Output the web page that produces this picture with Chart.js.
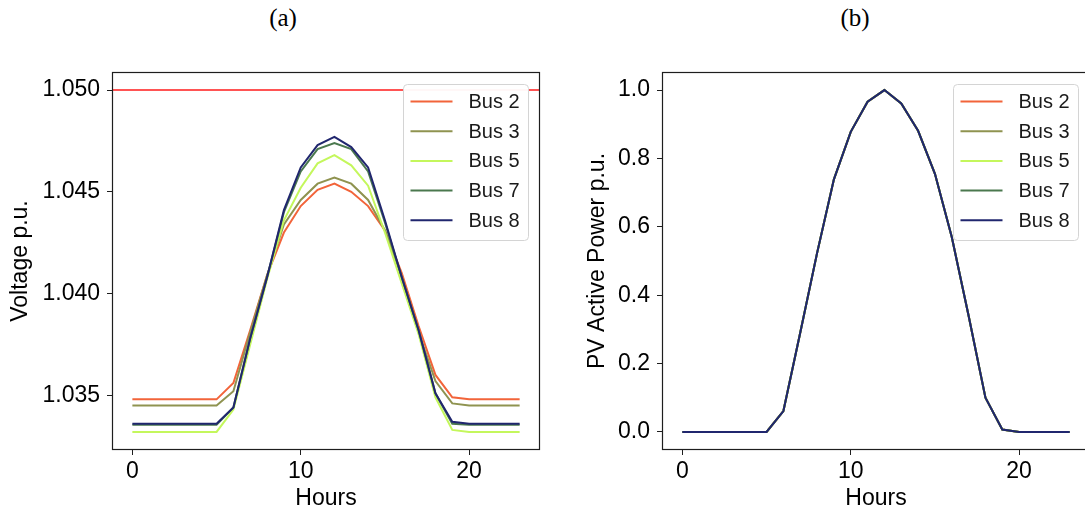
<!DOCTYPE html>
<html>
<head>
<meta charset="utf-8">
<title>Bus voltage and PV active power</title>
<script src="https://cdn.jsdelivr.net/npm/chart.js@4.4.1/dist/chart.umd.min.js"></script>
<style>
  html, body { margin: 0; padding: 0; background: #fff; overflow: hidden; width: 1085px; height: 514px; }
  #page { position: relative; width: 1085px; height: 514px; overflow: hidden; }
  .panel { position: absolute; top: 60px; width: 545px; height: 454px; }
  #panelA { left: 0; }
  #panelB { left: 550px; }
  .tag { position: absolute; top: 4px; font-family: "Liberation Serif", "Times New Roman", serif;
         font-size: 25px; line-height: 28px; color: #000; transform: translateX(-50%); }
</style>
</head>
<body>
<div id="page">
  <div class="tag" style="left:283px">(a)</div>
  <div class="tag" style="left:855px">(b)</div>
  <div class="panel" id="panelA"><canvas id="voltageChart" width="545" height="454"></canvas></div>
  <div class="panel" id="panelB"><canvas id="powerChart" width="545" height="454"></canvas></div>
</div>
<script>
// Hour of day
const hours = [0, 1, 2, 3, 4, 5, 6, 7, 8, 9, 10, 11, 12, 13, 14, 15, 16, 17, 18, 19, 20, 21, 22, 23];

// Bus voltages (p.u.)
const bus2Voltage = [1.0348, 1.0348, 1.0348, 1.0348, 1.0348, 1.0348, 1.0356, 1.0382, 1.0409, 1.0430, 1.0443, 1.0451,
                     1.0454, 1.0450, 1.0443, 1.0431, 1.0410, 1.0384, 1.0360, 1.0349, 1.0348, 1.0348, 1.0348, 1.0348];
const bus3Voltage = [1.0345, 1.0345, 1.0345, 1.0345, 1.0345, 1.0345, 1.0352, 1.0381, 1.0409, 1.0434, 1.0446, 1.0454,
                     1.0457, 1.0454, 1.0446, 1.0431, 1.0408, 1.0381, 1.0357, 1.0346, 1.0345, 1.0345, 1.0345, 1.0345];
const bus5Voltage = [1.0332, 1.0332, 1.0332, 1.0332, 1.0332, 1.0332, 1.0343, 1.0375, 1.0407, 1.0436, 1.0452, 1.0464,
                     1.0468, 1.0463, 1.0453, 1.0430, 1.0405, 1.0380, 1.0349, 1.0333, 1.0332, 1.0332, 1.0332, 1.0332];
const bus7Voltage = [1.03355, 1.03355, 1.03355, 1.03355, 1.03355, 1.03355, 1.0344, 1.0378, 1.0408, 1.0440, 1.0460, 1.0471,
                     1.0474, 1.0471, 1.0460, 1.0435, 1.0408, 1.0382, 1.0351, 1.0336, 1.03355, 1.03355, 1.03355, 1.03355];
const bus8Voltage = [1.0336, 1.0336, 1.0336, 1.0336, 1.0336, 1.0336, 1.0344, 1.0378, 1.0408, 1.0441, 1.0462, 1.0473,
                     1.0477, 1.0472, 1.0462, 1.0436, 1.0408, 1.0382, 1.0351, 1.0337, 1.0336, 1.0336, 1.0336, 1.0336];

// PV active power injected at each bus (p.u.), the same profile for every bus
const pvPower = [0, 0, 0, 0, 0, 0, 0.061, 0.29, 0.523, 0.739, 0.878, 0.966,
                 1.0, 0.961, 0.881, 0.755, 0.57, 0.34, 0.10, 0.007, 0, 0, 0, 0];

// Upper voltage limit (p.u.)
const voltageLimit = 1.05;

// Series names and line colours
const busNames = ['Bus 2', 'Bus 3', 'Bus 5', 'Bus 7', 'Bus 8'];
const busColors = ['#f2643a', '#8f9350', '#c4f75c', '#4a784e', '#20266e'];
const busVoltages = [bus2Voltage, bus3Voltage, bus5Voltage, bus7Voltage, bus8Voltage];

// Tick labels
const hourTicks = [0, 10, 20];
const voltageTicks = [1.035, 1.040, 1.045, 1.050];
const powerTicks = [0.0, 0.2, 0.4, 0.6, 0.8, 1.0];

Chart.defaults.font.family = '"Liberation Sans", Arial, Helvetica, sans-serif';
Chart.defaults.color = '#000';

// Padded axis range, 5% beyond the data on each side
function paddedRange(values) {
  const lo = Math.min(...values), hi = Math.max(...values);
  const pad = (hi - lo) * 0.05;
  return { min: lo - pad, max: hi + pad };
}

const hourRange = paddedRange(hours);
const voltageRange = paddedRange([...busVoltages.flat(), voltageLimit]);
const powerRange = paddedRange(pvPower);

function lineSets(seriesFor) {
  return busNames.map((name, i) => ({
    label: name,
    data: hours.map((h, k) => ({ x: h, y: seriesFor(i)[k] })),
    borderColor: busColors[i],
    backgroundColor: busColors[i],
    borderWidth: 2,
    pointRadius: 0,
    tension: 0,
    fill: false,
    order: busNames.length - 1 - i
  }));
}

// Box around the plotting area
const frame = {
  id: 'frame',
  afterDatasetsDraw(chart) {
    const { ctx, chartArea: a } = chart;
    ctx.save();
    ctx.strokeStyle = '#1e1e1e';
    ctx.lineWidth = 1.2;
    ctx.strokeRect(Math.round(a.left) - 0.5, Math.round(a.top) - 0.5,
                   Math.round(a.right - a.left) + 1, Math.round(a.bottom - a.top) + 1);
    ctx.restore();
  }
};

// Horizontal voltage-limit line across the full width
const limitLine = {
  id: 'limitLine',
  beforeDatasetsDraw(chart) {
    const { ctx, chartArea: a, scales } = chart;
    const y = scales.y.getPixelForValue(voltageLimit);
    ctx.save();
    ctx.strokeStyle = '#ff1a1a';
    ctx.lineWidth = 1.5;
    ctx.beginPath();
    ctx.moveTo(a.left, y);
    ctx.lineTo(a.right, y);
    ctx.stroke();
    ctx.restore();
  }
};

// Legend drawn inside the upper right corner of the plot
const insideLegend = {
  id: 'insideLegend',
  afterDatasetsDraw(chart) {
    const { ctx, chartArea: a } = chart;
    const w = 125, h = 156;
    const x0 = Math.round(a.right - 11 - w) + 0.5, y0 = Math.round(a.top + 11) + 0.5;
    ctx.save();
    ctx.beginPath();
    ctx.roundRect(x0, y0, w, h, 4);
    ctx.fillStyle = 'rgba(255,255,255,0.96)';
    ctx.fill();
    ctx.strokeStyle = '#d4d4d4';
    ctx.lineWidth = 1;
    ctx.stroke();
    ctx.font = '20px "Liberation Sans", Arial, sans-serif';
    ctx.textBaseline = 'middle';
    ctx.textAlign = 'left';
    chart.data.datasets.forEach((ds, i) => {
      const y = y0 + 17 + i * 29.7;
      ctx.strokeStyle = ds.borderColor;
      ctx.lineWidth = 2;
      ctx.beginPath();
      ctx.moveTo(x0 + 7, y);
      ctx.lineTo(x0 + 49, y);
      ctx.stroke();
      ctx.fillStyle = '#1a1a1a';
      ctx.fillText(ds.label, x0 + 65, y + 1);
    });
    ctx.restore();
  }
};

function axisOptions(range, tickValues, fmt, titleText, titlePad, width) {
  return {
    type: 'linear',
    min: range.min,
    max: range.max,
    afterBuildTicks(scale) { scale.ticks = tickValues.map(v => ({ value: v })); },
    afterFit(scale) { scale.width = width; scale.paddingTop = 0; scale.paddingBottom = 0; },
    grid: { display: true, drawOnChartArea: false, drawTicks: true, tickLength: 6, color: '#1e1e1e', lineWidth: 1 },
    border: { display: false },
    ticks: { padding: 7, font: { size: 23 }, color: '#000', callback: v => fmt(v) },
    title: { display: true, text: titleText, font: { size: 23 }, color: '#000', padding: { top: titlePad, bottom: 0 } }
  };
}

function hourAxis() {
  return {
    type: 'linear',
    min: hourRange.min,
    max: hourRange.max,
    afterBuildTicks(scale) { scale.ticks = hourTicks.map(v => ({ value: v })); },
    afterFit(scale) { scale.height = 65; scale.paddingLeft = 0; scale.paddingRight = 0; },
    grid: { display: true, drawOnChartArea: false, drawTicks: true, tickLength: 6, color: '#1e1e1e', lineWidth: 1 },
    border: { display: false },
    ticks: { padding: 3, font: { size: 23 }, color: '#000', maxRotation: 0, callback: v => String(v) },
    title: { display: true, text: 'Hours', font: { size: 23 }, color: '#000', padding: { top: 0, bottom: 2 } }
  };
}

function baseOptions(yAxis) {
  return {
    responsive: false,
    devicePixelRatio: 1,
    animation: false,
    layout: { padding: { top: 13, right: 6, left: 0, bottom: 0 } },
    plugins: { legend: { display: false }, title: { display: false }, tooltip: { enabled: false } },
    scales: { x: hourAxis(), y: yAxis }
  };
}

new Chart(document.getElementById('voltageChart'), {
  type: 'line',
  data: { datasets: lineSets(i => busVoltages[i]) },
  options: baseOptions(axisOptions(voltageRange, voltageTicks, v => v.toFixed(3), 'Voltage p.u.', 7, 113)),
  plugins: [limitLine, frame, insideLegend]
});

new Chart(document.getElementById('powerChart'), {
  type: 'line',
  data: { datasets: lineSets(() => pvPower) },
  options: baseOptions(axisOptions(powerRange, powerTicks, v => v.toFixed(1), 'PV Active Power p.u.', 34, 113)),
  plugins: [frame, insideLegend]
});
</script>
</body>
</html>
